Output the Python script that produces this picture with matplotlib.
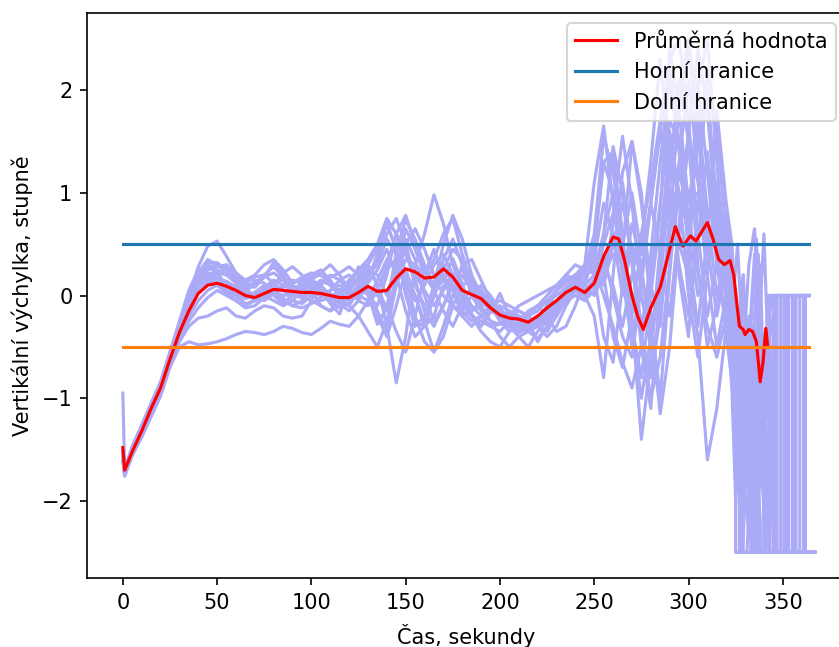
"""Vertical deviation of repeated trials vs. time, with mean and limits."""

import matplotlib
matplotlib.use('Agg')
import matplotlib.pyplot as plt

# shared sample times for the main part of each trial (seconds)
T_MAIN = [0, 1] + list(range(5, 325, 5))

# trial values at T_MAIN (degrees), then a tail with its own times
TRIAL_01 = [-0.95, -1.74, -1.52, -1.32, -1.12, -0.92, -0.62, -0.32, -0.02, 0.28, 0.48,
            0.53, 0.38, 0.22, 0.12, 0.08, 0.18, 0.32, 0.22, 0.08, 0.02, 0.12,
            0.05, -0.08, -0.18, 0.08, 0.28, 0.02, -0.28, -0.12, 0.42, 0.74, 0.55,
            0.3, 0.08, 0.14, 0.36, 0.12, -0.18, -0.3, -0.16, 0.02, -0.2, -0.36,
            -0.32, -0.22, -0.1, 0.04, 0.16, 0.1, 0.3, 1.1, 1.65, 0.9, 0.2,
            -0.5, 0.2, 0.9, 1.6, 2.2, 1.5, 0.4, -0.3, 0.6, 0.5, 0.2]
TAIL_T_01 = [323, 326, 329, 332, 335, 338, 341, 341, 346, 346, 364]
TAIL_Y_01 = [-0.4, -1.5, -0.6, 0.3, 0.65, -0.2, -1.8, -2.5, -2.5, 0.0, 0.0]

TRIAL_02 = [-1.55, -1.72, -1.5, -1.3, -1.08, -0.88, -0.58, -0.3, -0.02, 0.22, 0.35,
            0.3, 0.22, 0.12, 0.02, -0.05, 0.0, 0.1, 0.22, 0.28, 0.2, 0.05,
            -0.1, -0.15, 0.0, 0.15, 0.25, 0.3, 0.1, -0.3, -0.85, -0.4, 0.3,
            0.6, 0.98, 0.7, 0.3, 0.05, -0.1, -0.2, -0.3, -0.35, -0.25, -0.2,
            -0.25, -0.3, -0.15, 0.05, 0.2, 0.15, 0.0, -0.2, -0.8, 0.2, 1.2,
            1.5, 0.9, 0.1, -0.3, 0.8, 1.8, 2.4, 1.6, 0.5, -0.2, 0.3]
TAIL_T_02 = [324, 327, 327, 331, 334, 337, 340, 343, 349, 349, 364]
TAIL_Y_02 = [-0.6, -2.1, -2.5, -2.5, -1.2, -2.0, -0.9, -2.5, -2.5, 0.0, 0.0]

TRIAL_03 = [-1.6, -1.75, -1.55, -1.38, -1.18, -0.98, -0.7, -0.5, -0.45, -0.48, -0.47,
            -0.45, -0.42, -0.38, -0.35, -0.36, -0.38, -0.35, -0.3, -0.32, -0.36, -0.38,
            -0.32, -0.25, -0.28, -0.3, -0.2, -0.05, 0.15, 0.35, 0.5, 0.4, 0.2,
            0.05, -0.1, 0.05, 0.2, 0.25, 0.1, -0.05, -0.15, -0.2, -0.3, -0.4,
            -0.5, -0.35, -0.25, -0.15, -0.05, 0.1, 0.2, 0.25, 0.3, 0.5, 0.3,
            0.0, -0.4, -1.0, -0.6, 0.3, 1.0, 0.6, 2.1, 1.2, 0.3, -0.3]
TAIL_T_03 = [324, 328, 331, 334, 337, 340, 343, 343, 351, 351, 367]
TAIL_Y_03 = [-0.8, -0.2, -1.6, -0.5, 0.4, -1.0, -0.3, 0.0, 0.0, -2.5, -2.5]

TRIAL_04 = [-1.5, -1.7, -1.5, -1.32, -1.14, -0.95, -0.68, -0.45, -0.3, -0.22, -0.2,
            -0.15, -0.12, -0.2, -0.22, -0.15, -0.1, -0.12, -0.2, -0.22, -0.2, -0.05,
            0.1, 0.2, 0.15, 0.05, 0.0, -0.05, 0.05, 0.25, 0.35, 0.2, 0.0,
            -0.25, -0.55, -0.4, -0.1, 0.1, 0.15, 0.05, -0.05, -0.15, -0.25, -0.28,
            -0.2, -0.1, 0.0, 0.1, 0.2, 0.15, 0.05, 0.15, 0.6, 1.45, 1.0,
            0.3, -0.4, -0.8, -0.2, 0.6, 1.2, 0.8, 0.2, -0.3, -0.6, -0.2]
TAIL_T_04 = [323, 325, 325, 333, 333, 338, 341, 344, 353, 353, 367]
TAIL_Y_04 = [-0.9, -2.0, -2.5, -2.5, -0.8, -1.5, -0.5, 0.0, 0.0, -2.5, -2.5]

TRIAL_05 = [-1.55, -1.7, -1.48, -1.28, -1.06, -0.86, -0.55, -0.25, 0.05, 0.25, 0.3,
            0.22, 0.1, 0.0, -0.08, -0.05, 0.05, 0.1, 0.05, -0.05, -0.08, 0.0,
            0.05, 0.02, -0.05, -0.1, 0.05, 0.2, 0.35, 0.6, 0.75, 0.5, 0.15,
            -0.15, -0.3, -0.1, 0.15, 0.2, 0.05, -0.1, -0.25, -0.4, -0.5, -0.4,
            -0.35, -0.42, -0.3, -0.1, 0.05, 0.2, 0.25, 0.5, 1.3, 1.4, 0.6,
            -0.2, -1.4, -0.6, 0.5, 1.4, 0.9, 0.2, -0.4, -1.6, -1.1, -0.3]
TAIL_T_05 = [323, 326, 329, 332, 335, 338, 340, 340, 357, 357, 364]
TAIL_Y_05 = [0.3, -0.5, -2.2, -1.0, -1.9, -0.6, -2.0, -2.5, -2.5, 0.0, 0.0]

TRIAL_06 = [-1.58, -1.73, -1.52, -1.33, -1.12, -0.9, -0.6, -0.3, 0.0, 0.2, 0.28,
            0.3, 0.25, 0.15, 0.05, -0.02, 0.02, 0.05, -0.02, -0.1, -0.05, 0.08,
            0.15, 0.1, 0.0, -0.1, -0.2, -0.35, -0.5, -0.25, 0.2, 0.65, 0.45,
            0.2, 0.35, 0.6, 0.75, 0.4, 0.1, -0.05, -0.1, -0.18, -0.25, -0.3,
            -0.28, -0.22, -0.15, -0.05, 0.0, 0.05, 0.0, 0.1, 0.5, 0.8, 1.55,
            0.9, 0.0, -0.5, 0.2, 1.2, 2.0, 2.5, 1.8, 0.8, 0.0, 0.4]
TAIL_T_06 = [323, 326, 329, 329, 336, 336, 340, 343, 346, 346, 367]
TAIL_Y_06 = [0.1, -0.7, -1.9, -2.5, -2.5, -1.1, -0.4, -1.3, 0.0, -2.5, -2.5]

TRIAL_07 = [-1.52, -1.7, -1.47, -1.27, -1.05, -0.84, -0.55, -0.27, 0.02, 0.2, 0.22,
            0.18, 0.05, -0.05, -0.1, -0.05, 0.0, -0.05, -0.1, -0.05, 0.05, 0.1,
            0.05, -0.05, 0.0, 0.1, 0.25, 0.35, 0.5, 0.75, 0.6, 0.2, -0.2,
            -0.45, -0.55, -0.3, 0.0, 0.3, 0.35, 0.15, -0.05, -0.15, -0.2, -0.1,
            -0.05, 0.0, 0.05, 0.1, 0.15, 0.2, 0.1, 0.0, 0.2, 0.4, 0.3,
            -0.3, -1.0, -0.4, 0.3, 1.0, 0.5, 0.2, 2.0, 2.5, 1.3, 0.2]
TAIL_T_07 = [323, 326, 329, 332, 335, 338, 341, 344, 355, 355, 364]
TAIL_Y_07 = [-0.5, -1.2, 0.2, -0.9, -2.3, -1.4, -2.4, -2.5, -2.5, 0.0, 0.0]

TRIAL_08 = [-1.6, -1.76, -1.55, -1.36, -1.16, -0.96, -0.66, -0.38, -0.08, 0.12, 0.2,
            0.25, 0.2, 0.12, 0.05, 0.0, 0.08, 0.15, 0.1, 0.05, 0.12, 0.18,
            0.2, 0.12, 0.05, 0.02, 0.0, 0.05, 0.0, -0.1, -0.35, -0.55, -0.2,
            0.2, 0.45, 0.2, -0.1, -0.2, -0.15, -0.05, -0.1, -0.2, -0.3, -0.35,
            -0.3, -0.25, -0.2, -0.05, 0.05, 0.15, 0.2, 0.3, 0.0, -0.3, -0.65,
            -0.9, -0.5, 0.4, 1.3, 2.1, 1.4, 0.6, 0.0, 0.3, 0.8, 0.4]
TAIL_T_08 = [324, 327, 330, 333, 336, 338, 342, 342, 361, 361, 367]
TAIL_Y_08 = [0.0, -0.8, -1.6, -0.3, 0.55, -0.5, -1.2, 0.0, 0.0, -2.5, -2.5]

TRIAL_09 = [-1.54, -1.71, -1.5, -1.3, -1.1, -0.9, -0.62, -0.34, -0.05, 0.18, 0.32,
            0.32, 0.25, 0.18, 0.1, 0.12, 0.2, 0.28, 0.18, 0.08, 0.05, 0.0,
            -0.05, -0.02, 0.05, 0.15, 0.22, 0.2, 0.3, 0.55, 0.4, 0.05, -0.25,
            -0.3, 0.0, 0.35, 0.55, 0.3, 0.0, -0.15, -0.25, -0.28, -0.22, -0.15,
            -0.2, -0.3, -0.35, -0.2, -0.05, 0.05, 0.15, 0.35, 0.9, 0.6, 0.0,
            0.5, 0.2, -0.3, -1.15, -0.5, 0.6, 1.5, 1.1, 0.4, 0.9, 0.6]
TAIL_T_09 = [323, 326, 329, 332, 335, 345, 345, 364]
TAIL_Y_09 = [0.1, -1.0, -1.8, -2.3, -2.5, -2.5, 0.0, 0.0]

TRIAL_10 = [-1.56, -1.72, -1.52, -1.32, -1.12, -0.92, -0.64, -0.36, -0.12, 0.05, 0.12,
            0.1, 0.05, 0.0, -0.03, 0.0, 0.05, 0.02, -0.05, -0.1, -0.12, -0.08,
            -0.02, 0.05, 0.1, 0.05, -0.05, -0.1, 0.05, 0.3, 0.6, 0.78, 0.5,
            0.25, 0.1, 0.5, 0.78, 0.55, 0.2, 0.0, -0.1, -0.2, -0.15, -0.2,
            -0.25, -0.45, -0.3, -0.15, -0.05, 0.0, -0.05, 0.05, 0.3, 0.1, -0.3,
            0.2, 0.6, 1.1, 1.7, 2.3, 2.5, 1.7, 0.6, -0.2, 0.3, 0.8]
TAIL_T_10 = [323, 325, 328, 331, 334, 337, 340, 342, 351, 351, 367]
TAIL_Y_10 = [0.4, -0.3, -1.3, -0.4, -1.7, -0.7, -1.9, 0.0, 0.0, -2.5, -2.5]

TRIAL_11 = [-1.6, -1.75, -1.54, -1.35, -1.15, -0.94, -0.66, -0.4, -0.2, -0.05, 0.05,
            0.1, 0.12, 0.08, 0.05, 0.1, 0.18, 0.22, 0.15, 0.05, 0.0, -0.05,
            -0.1, -0.15, -0.1, 0.0, 0.1, 0.05, -0.2, -0.4, -0.1, 0.25, 0.0,
            -0.3, -0.2, 0.1, 0.05, -0.1, -0.2, -0.25, -0.3, -0.28, -0.25, -0.22,
            -0.22, -0.3, -0.4, -0.3, -0.1, 0.05, -0.05, 0.15, 0.4, 0.0, -0.4,
            -0.6, 0.1, 0.9, 1.6, 1.0, 0.3, -0.2, 0.5, 1.4, 0.5, -0.4]
TAIL_T_11 = [323, 326, 329, 332, 335, 338, 338, 353, 353, 364]
TAIL_Y_11 = [-0.8, -1.9, -1.2, -0.2, -1.0, -2.2, -2.5, -2.5, 0.0, 0.0]

TRIAL_12 = [-1.53, -1.7, -1.49, -1.29, -1.08, -0.87, -0.57, -0.28, 0.0, 0.18, 0.2,
            0.12, 0.05, 0.02, 0.0, 0.03, 0.1, 0.05, 0.0, 0.02, 0.08, 0.15,
            0.22, 0.3, 0.2, 0.05, 0.15, 0.3, 0.45, 0.7, 0.45, 0.1, -0.05,
            0.1, 0.3, 0.4, 0.2, -0.05, -0.15, -0.1, -0.05, -0.12, -0.25, -0.3,
            -0.3, -0.25, -0.2, -0.12, -0.05, 0.05, 0.1, 0.2, 0.15, 0.7, 1.1,
            0.4, -0.3, 0.2, 0.9, 1.7, 1.5, 0.9, 1.0, 0.2, -0.5, 0.0]
TAIL_T_12 = [323, 326, 329, 332, 334, 334, 339, 342, 347, 347, 367]
TAIL_Y_12 = [0.3, -0.4, 0.2, -1.4, -2.0, -2.5, -1.6, -0.5, 0.0, -2.5, -2.5]

TRIAL_13 = [-1.57, -1.73, -1.53, -1.33, -1.13, -0.93, -0.63, -0.33, -0.05, 0.15, 0.25,
            0.28, 0.3, 0.22, 0.15, 0.2, 0.3, 0.35, 0.25, 0.12, 0.15, 0.2,
            0.25, 0.15, 0.02, -0.05, 0.1, 0.25, 0.2, 0.0, 0.3, 0.55, 0.35,
            0.0, -0.25, -0.1, 0.1, 0.0, -0.2, -0.35, -0.45, -0.5, -0.35, -0.25,
            -0.15, -0.1, -0.2, -0.35, -0.3, -0.1, 0.15, 0.4, 0.2, -0.4, -0.7,
            -0.2, 0.5, 1.3, 2.3, 1.4, 0.2, -0.4, 0.9, 2.2, 1.6, 0.6]
TAIL_T_13 = [323, 326, 328, 331, 334, 337, 340, 343, 345, 345, 349, 349, 367]
TAIL_Y_13 = [0.2, -0.9, -2.5, -1.2, -2.4, -0.5, 0.6, -1.0, -2.5, 0.0, 0.0, -2.5, -2.5]

TRIAL_14 = [-1.51, -1.69, -1.47, -1.26, -1.05, -0.85, -0.57, -0.3, -0.04, 0.14, 0.18,
            0.16, 0.14, 0.08, 0.02, 0.0, 0.05, 0.12, 0.15, 0.1, 0.05, 0.02,
            0.0, 0.05, 0.15, 0.2, 0.12, 0.0, -0.1, 0.2, 0.6, 0.45, 0.1,
            -0.1, 0.0, 0.25, 0.45, 0.35, 0.15, 0.0, -0.15, -0.2, -0.18, -0.25,
            -0.32, -0.28, -0.1, 0.05, 0.12, 0.2, 0.3, 0.2, -0.4, -0.65, 0.1,
            0.7, 0.3, -0.5, 0.4, 1.6, 1.0, 0.0, -0.6, 0.2, 1.1, 0.5]
TAIL_T_14 = [323, 326, 329, 332, 335, 337, 362, 362, 364]
TAIL_Y_14 = [0.0, -1.1, -2.4, -0.8, -1.6, -2.5, -2.5, 0.0, 0.0]

TRIAL_15 = [-1.59, -1.74, -1.56, -1.37, -1.17, -0.97, -0.68, -0.42, -0.25, -0.12, -0.02,
            0.05, 0.0, -0.05, 0.05, 0.15, 0.12, 0.0, -0.08, 0.0, 0.1, 0.15,
            0.1, 0.0, -0.08, -0.15, -0.05, 0.15, 0.4, 0.7, 0.45, 0.0, -0.3,
            -0.2, 0.1, 0.3, 0.1, -0.15, -0.25, -0.2, -0.1, -0.05, -0.1, -0.15,
            -0.2, -0.15, -0.05, 0.0, 0.08, 0.15, 0.1, 0.45, 1.3, 1.0, 0.3,
            -0.3, -0.8, 0.0, 0.8, 2.4, 1.8, 0.9, 1.5, 2.0, 0.9, -0.1]
TAIL_T_15 = [323, 326, 329, 332, 335, 338, 338, 343, 343, 356, 356, 367]
TAIL_Y_15 = [-0.7, -1.8, -0.9, -2.1, -1.0, -2.3, -2.5, -2.5, 0.0, 0.0, -2.5, -2.5]

TRIAL_16 = [-1.53, -1.71, -1.5, -1.31, -1.11, -0.91, -0.62, -0.33, -0.1, 0.05, 0.15,
            0.22, 0.2, 0.15, 0.12, 0.18, 0.2, 0.12, 0.05, 0.0, -0.02, 0.05,
            0.12, 0.18, 0.22, 0.28, 0.2, 0.05, -0.15, -0.35, 0.1, 0.5, 0.65,
            0.45, 0.2, 0.0, -0.1, -0.15, 0.0, 0.1, 0.0, -0.15, -0.28, -0.32,
            -0.35, -0.3, -0.22, -0.1, 0.0, 0.1, 0.22, 0.25, 0.6, 1.0, 0.4,
            1.5, 1.0, -0.2, -1.0, 0.2, 1.3, 2.1, 1.2, 0.5, 1.8, 0.9]
TAIL_T_16 = [323, 326, 329, 332, 335, 338, 340, 340, 359, 359, 364]
TAIL_Y_16 = [0.5, -0.6, -1.4, -0.5, 0.4, -0.8, -2.2, -2.5, -2.5, 0.0, 0.0]

TRIAL_17 = [-1.58, -1.73, -1.53, -1.34, -1.14, -0.94, -0.64, -0.36, -0.08, 0.1, 0.15,
            0.1, 0.02, -0.05, -0.12, -0.1, -0.02, 0.05, 0.08, 0.12, 0.18, 0.22,
            0.2, 0.12, 0.0, 0.05, 0.18, 0.3, 0.1, -0.15, 0.1, 0.35, 0.3,
            0.2, 0.05, -0.15, -0.3, -0.1, 0.1, 0.05, -0.1, -0.25, -0.35, -0.3,
            -0.25, -0.2, -0.28, -0.2, 0.0, 0.18, 0.25, 0.3, 0.1, 0.5, 0.9,
            0.4, -0.5, -1.1, 0.1, 1.2, 2.1, 1.5, 0.3, -0.5, -0.1, 0.6]
TAIL_T_17 = [323, 325, 328, 331, 334, 337, 340, 343, 367]
TAIL_Y_17 = [0.3, -0.9, -2.4, -1.1, -0.3, -1.5, -0.4, -2.5, -2.5]

TRIAL_18 = [-1.55, -1.72, -1.51, -1.31, -1.1, -0.89, -0.6, -0.32, -0.06, 0.15, 0.25,
            0.3, 0.28, 0.2, 0.08, -0.02, -0.05, 0.02, 0.1, 0.15, 0.12, 0.08,
            0.02, -0.05, -0.12, -0.08, 0.05, 0.12, 0.25, 0.45, 0.2, -0.15, -0.4,
            -0.3, 0.0, 0.2, 0.05, -0.2, -0.3, -0.2, -0.15, -0.1, -0.15, -0.22,
            -0.18, -0.1, -0.05, 0.05, 0.2, 0.3, 0.25, 0.6, 1.55, 1.2, 0.5,
            1.0, 0.4, 0.9, 0.4, -0.2, 0.7, 1.6, 2.4, 1.8, 0.7, 0.1]
TAIL_T_18 = [323, 326, 329, 332, 335, 338, 341, 341, 352, 352, 364]
TAIL_Y_18 = [-0.2, 0.5, -0.6, -1.9, -0.7, 0.3, -1.6, -2.5, -2.5, 0.0, 0.0]

TRIALS = [
    (TRIAL_01, TAIL_T_01, TAIL_Y_01), (TRIAL_02, TAIL_T_02, TAIL_Y_02),
    (TRIAL_03, TAIL_T_03, TAIL_Y_03), (TRIAL_04, TAIL_T_04, TAIL_Y_04),
    (TRIAL_05, TAIL_T_05, TAIL_Y_05), (TRIAL_06, TAIL_T_06, TAIL_Y_06),
    (TRIAL_07, TAIL_T_07, TAIL_Y_07), (TRIAL_08, TAIL_T_08, TAIL_Y_08),
    (TRIAL_09, TAIL_T_09, TAIL_Y_09), (TRIAL_10, TAIL_T_10, TAIL_Y_10),
    (TRIAL_11, TAIL_T_11, TAIL_Y_11), (TRIAL_12, TAIL_T_12, TAIL_Y_12),
    (TRIAL_13, TAIL_T_13, TAIL_Y_13), (TRIAL_14, TAIL_T_14, TAIL_Y_14),
    (TRIAL_15, TAIL_T_15, TAIL_Y_15), (TRIAL_16, TAIL_T_16, TAIL_Y_16),
    (TRIAL_17, TAIL_T_17, TAIL_Y_17), (TRIAL_18, TAIL_T_18, TAIL_Y_18),
]

# mean curve
MEAN_T = [0, 1, 5, 10, 15, 20, 25, 30, 35, 40, 45, 50, 55, 60, 65, 70, 75, 80,
          85, 90, 95, 100, 105, 110, 115, 120, 125, 130, 135, 140, 145, 150,
          155, 160, 165, 170, 175, 180, 185, 190, 195, 200, 205, 210, 215, 220,
          225, 230, 235, 240, 245, 250, 255, 260, 263, 266, 270, 273, 276, 280,
          285, 290, 293, 297, 301, 304, 307, 310, 313, 316, 319, 322, 324, 326,
          327, 329, 330, 332, 334, 336, 338, 339.5, 341, 342]
MEAN_Y = [-1.48, -1.70, -1.52, -1.32, -1.10, -0.90, -0.62, -0.36, -0.15, 0.02,
          0.10, 0.12, 0.09, 0.05, 0.0, -0.02, 0.02, 0.06, 0.05, 0.04, 0.03, 0.03,
          0.02, 0.0, -0.02, -0.02, 0.03, 0.09, 0.04, 0.05, 0.17, 0.26, 0.23,
          0.17, 0.18, 0.26, 0.18, 0.05, 0.01, -0.03, -0.12, -0.19, -0.22, -0.23,
          -0.26, -0.20, -0.12, -0.05, 0.03, 0.08, 0.03, 0.12, 0.38, 0.57, 0.55,
          0.35, 0.0, -0.20, -0.33, -0.12, 0.08, 0.45, 0.67, 0.48, 0.58, 0.53,
          0.62, 0.71, 0.55, 0.35, 0.30, 0.34, 0.20, -0.14, -0.30, -0.33, -0.38,
          -0.33, -0.35, -0.45, -0.84, -0.65, -0.32, -0.50]

# limits
LIMIT_T = [0, 364]
UPPER = [0.5, 0.5]
LOWER = [-0.5, -0.5]

TRIAL_COLOR = '#aaaaf7'


def main():
    fig = plt.figure(figsize=(839 / 150, 647 / 150), dpi=150)
    # axes runs past the right edge, as in the cropped original
    ax = fig.add_axes([0.1037, 0.1066, 0.9046, 0.8733])

    for values, tail_t, tail_y in TRIALS:
        ax.plot(T_MAIN + tail_t, values + tail_y, color=TRIAL_COLOR, lw=1.5)

    ax.plot(MEAN_T, MEAN_Y, color='red', lw=1.5, label='Průměrná hodnota')
    ax.plot(LIMIT_T, UPPER, color='C0', lw=1.5, label='Horní hranice')
    ax.plot(LIMIT_T, LOWER, color='C1', lw=1.5, label='Dolní hranice')

    ax.set_xlim(-19, 383.5)
    ax.set_ylim(-2.75, 2.75)
    ax.set_xlabel('Čas, sekundy', labelpad=5.5)
    ax.set_ylabel('Vertikální výchylka, stupně')
    ax.legend(loc='upper right')

    fig.savefig('out.png', dpi=150)


if __name__ == '__main__':
    main()
